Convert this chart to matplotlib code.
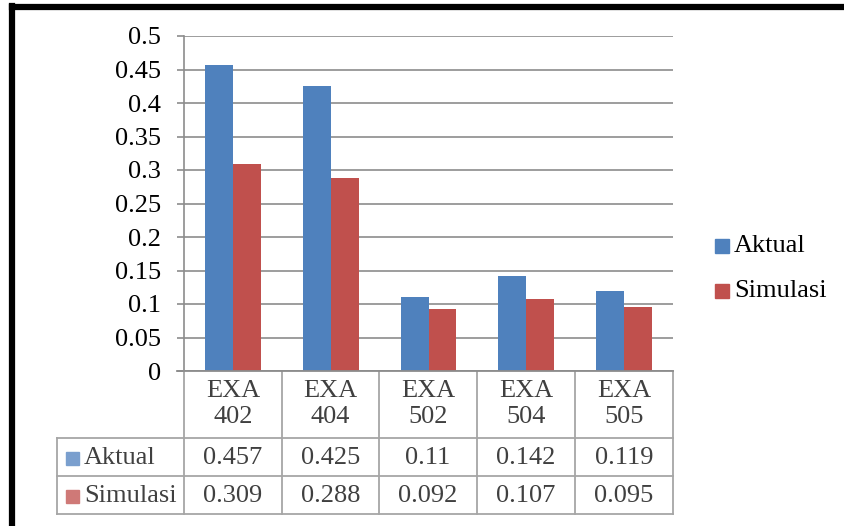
import numpy as np
import matplotlib
matplotlib.use("Agg")
import matplotlib.pyplot as plt
from matplotlib.patches import Rectangle
from matplotlib.lines import Line2D

categories = ["EXA\n402", "EXA\n404", "EXA\n502", "EXA\n504", "EXA\n505"]
aktual = [0.457, 0.425, 0.11, 0.142, 0.119]
simulasi = [0.309, 0.288, 0.092, 0.107, 0.095]
aktual_txt = ["0.457", "0.425", "0.11", "0.142", "0.119"]
simulasi_txt = ["0.309", "0.288", "0.092", "0.107", "0.095"]
yticks = [0, 0.05, 0.1, 0.15, 0.2, 0.25, 0.3, 0.35, 0.4, 0.45, 0.5]

W, H = 845, 526
plt.rcParams['font.family'] = ['Liberation Serif', 'DejaVu Serif']
blue = '#4F81BD'
red = '#C0504D'
grid_c = '#8C8C8C'
tab_c = '#A6A6A6'
txt_c = '#404040'
fs = 19


def fx(px):
    return px / W


def fy(py):
    return 1 - py / H


fig = plt.figure(figsize=(W / 100, H / 100), dpi=100)
ax = fig.add_axes([fx(184), fy(371), fx(673) - fx(184), fy(36) - fy(371)])

n = len(categories)
x = np.arange(n) + 0.5
bw = 0.286
ax.bar(x - bw / 2, aktual, bw, color=blue, zorder=3)
ax.bar(x + bw / 2, simulasi, bw, color=red, zorder=3)

ax.set_xlim(0, n)
ax.set_ylim(0, 0.5)
ax.set_yticks(yticks)
ax.set_yticklabels([f"{v:g}" for v in yticks], fontsize=fs, color='black')
ax.set_xticks([])
ax.tick_params(axis='y', length=5, width=1.2, color=grid_c, pad=11.5)
ax.grid(axis='y', color=grid_c, lw=1.2, zorder=0)
for s in ['top', 'right', 'bottom']:
    ax.spines[s].set_visible(False)
ax.spines['left'].set_color(grid_c)
ax.spines['left'].set_linewidth(1.2)

# data table under the axis
ft = fig.transFigure
row_y = [371, 438, 476, 514]
col_x = [184, 282, 379, 477, 575, 673]
for px in col_x:
    fig.add_artist(Line2D([fx(px), fx(px)], [fy(row_y[0]), fy(row_y[-1])],
                          color=tab_c, lw=1.3, transform=ft))
fig.add_artist(Line2D([fx(57), fx(57)], [fy(row_y[1]), fy(row_y[-1])],
                      color=tab_c, lw=1.3, transform=ft))
fig.add_artist(Line2D([fx(177), fx(673)], [fy(371), fy(371)],
                      color=grid_c, lw=1.3, transform=ft))
for py in row_y[1:]:
    fig.add_artist(Line2D([fx(57), fx(673)], [fy(py), fy(py)],
                          color=tab_c, lw=1.3, transform=ft))

for i, c in enumerate(categories):
    cx = (col_x[i] + col_x[i + 1]) / 2
    fig.text(fx(cx), fy(404), c, ha='center', va='center', fontsize=fs,
             color=txt_c, linespacing=1.25)
    fig.text(fx(cx), fy(458), aktual_txt[i], ha='center', va='center',
             fontsize=fs, color=txt_c)
    fig.text(fx(cx), fy(496), simulasi_txt[i], ha='center', va='center',
             fontsize=fs, color=txt_c)

for name, col, cy in [("Aktual", '#7A9FCE', 458), ("Simulasi", '#CF7977', 496)]:
    fig.add_artist(Rectangle((fx(66), fy(cy + 6.5)), fx(13), 13 / H,
                             color=col, transform=ft))
    fig.text(fx(84), fy(cy), name, ha='left', va='center', fontsize=fs,
             color=txt_c)

# legend
for name, col, cy in [("Aktual", blue, 246), ("Simulasi", red, 291)]:
    fig.add_artist(Rectangle((fx(715), fy(cy + 7)), fx(14), 14 / H,
                             color=col, transform=ft))
    fig.text(fx(734), fy(cy), name, ha='left', va='center', fontsize=fs,
             color='black')

# black frame
fig.add_artist(Line2D([fx(12), fx(12)], [fy(6), 0], color='black', lw=4.5,
                      transform=ft, solid_capstyle='projecting'))
fig.add_artist(Line2D([fx(12), 1], [fy(6.5), fy(6.5)], color='black', lw=4.5,
                      transform=ft, solid_capstyle='projecting'))

fig.savefig("out.png", dpi=100)
